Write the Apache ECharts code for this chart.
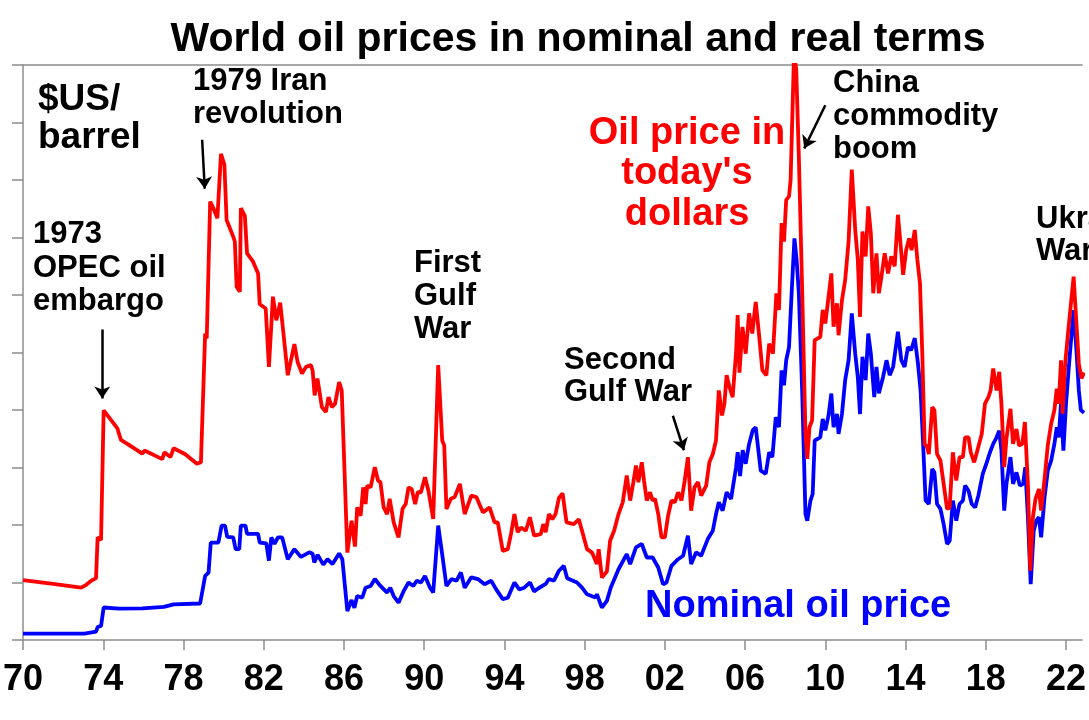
<!DOCTYPE html>
<html><head><meta charset="utf-8">
<script src="https://cdn.jsdelivr.net/npm/echarts@6/dist/echarts.min.js"></script>
<style>html,body{margin:0;padding:0;background:#fff}#c{width:1089px;height:720px}</style>
</head><body><div id="c"></div>
<script>
// ---- data ----
const tickYears = [1970,1974,1978,1982,1986,1990,1994,1998,2002,2006,2010,2014,2018,2022];

const realPrice = [
[1970.00,20.8],[1971.50,19.5],[1972.90,18.2],[1973.15,19.2],[1973.40,20.6],[1973.64,21.5],[1973.72,35.7],[1973.89,34.8],
[1974.02,79.9],[1974.47,75.8],[1974.71,73.5],[1974.88,69.6],[1975.20,68.2],[1975.95,64.8],[1976.06,65.9],[1976.94,62.9],
[1977.05,65.3],[1977.35,63.6],[1977.51,66.7],[1978.09,64.6],[1978.67,61.3],[1978.87,61.8],[1979.08,106.6],[1979.16,104.9],
[1979.33,152.5],[1979.49,150.2],[1979.69,146.7],[1979.87,169.1],[1980.04,165.3],[1980.15,146.1],[1980.48,140.3],[1980.56,138.6],
[1980.65,122.9],[1980.81,121.1],[1980.86,150.2],[1981.06,147.5],[1981.17,134.5],[1981.47,131.6],[1981.72,127.5],[1981.80,116.8],
[1982.10,115.3],[1982.26,95.0],[1982.46,119.4],[1982.63,111.2],[1982.82,117.3],[1982.95,108.9],[1983.20,92.1],[1983.53,102.9],
[1983.69,96.7],[1983.91,92.7],[1984.11,95.0],[1984.36,95.6],[1984.44,93.6],[1984.54,85.1],[1984.68,90.9],[1984.90,81.0],
[1985.10,79.3],[1985.23,84.5],[1985.40,81.0],[1985.56,82.2],[1985.76,89.7],[1985.89,86.8],[1986.17,30.4],[1986.38,41.5],
[1986.55,32.5],[1986.66,46.1],[1986.83,43.2],[1986.96,53.1],[1987.08,47.3],[1987.16,53.7],[1987.33,53.1],[1987.54,60.1],
[1987.70,55.4],[1987.82,54.9],[1987.98,46.1],[1988.15,43.8],[1988.28,49.1],[1988.48,40.9],[1988.72,35.7],[1988.92,45.6],
[1989.08,47.3],[1989.22,53.1],[1989.38,52.5],[1989.55,47.3],[1989.68,51.4],[1989.84,51.4],[1990.04,56.6],[1990.21,52.0],
[1990.45,42.1],[1990.70,95.6],[1990.90,69.4],[1991.00,67.6],[1991.11,45.6],[1991.33,49.1],[1991.52,49.7],[1991.78,54.3],
[1992.02,43.8],[1992.35,50.2],[1992.60,49.7],[1992.93,44.4],[1993.26,46.1],[1993.51,40.9],[1993.67,40.9],[1993.92,31.0],
[1994.17,31.6],[1994.33,36.9],[1994.50,43.8],[1994.66,37.5],[1994.83,39.1],[1995.07,38.0],[1995.27,42.7],[1995.48,36.3],
[1995.81,36.8],[1995.94,40.3],[1996.06,37.5],[1996.22,43.8],[1996.39,42.0],[1996.55,43.8],[1996.72,49.4],[1996.90,51.0],
[1997.10,40.9],[1997.46,40.3],[1997.71,42.0],[1997.87,38.0],[1998.12,31.6],[1998.37,30.4],[1998.61,26.4],[1998.70,31.6],
[1998.86,21.7],[1999.11,23.8],[1999.27,34.5],[1999.47,38.0],[1999.69,43.8],[1999.90,47.9],[2000.10,57.2],[2000.27,48.5],
[2000.43,54.9],[2000.56,60.7],[2000.68,54.9],[2000.85,61.8],[2000.96,55.5],[2001.10,48.5],[2001.26,51.4],[2001.39,48.5],
[2001.51,49.1],[2001.67,43.8],[2001.83,35.7],[2002.00,35.7],[2002.16,43.2],[2002.33,48.5],[2002.50,47.9],[2002.66,51.4],
[2002.83,48.5],[2002.99,55.5],[2003.15,63.6],[2003.31,45.0],[2003.48,53.1],[2003.65,54.9],[2003.81,50.2],[2004.06,53.7],
[2004.22,61.8],[2004.39,64.7],[2004.55,69.4],[2004.69,86.8],[2004.85,78.1],[2004.97,82.2],[2005.08,92.1],[2005.22,88.0],
[2005.38,84.5],[2005.55,100.0],[2005.63,113.0],[2005.72,93.0],[2005.87,108.9],[2006.03,99.6],[2006.20,113.6],[2006.36,106.6],
[2006.53,117.6],[2006.69,106.6],[2006.86,93.9],[2007.06,92.1],[2007.20,103.1],[2007.39,99.6],[2007.56,120.6],[2007.69,114.8],
[2007.82,145.0],[2007.94,138.6],[2008.05,153.1],[2008.19,154.3],[2008.27,160.1],[2008.44,204.0],[2008.55,198.5],[2008.68,168.2],
[2008.85,120.6],[2009.01,71.7],[2009.10,63.0],[2009.21,74.0],[2009.34,76.4],[2009.47,104.3],[2009.75,105.4],[2009.87,114.8],
[2010.00,110.1],[2010.13,117.6],[2010.30,127.5],[2010.41,109.0],[2010.58,117.1],[2010.66,106.0],[2010.83,118.2],[2010.99,125.2],
[2011.16,138.6],[2011.32,163.6],[2011.49,142.7],[2011.62,132.2],[2011.73,112.4],[2011.85,142.1],[2012.01,133.4],[2012.14,150.8],
[2012.27,141.5],[2012.39,120.6],[2012.55,134.5],[2012.67,120.6],[2012.80,126.4],[2012.96,134.5],[2013.13,127.5],[2013.29,133.4],
[2013.46,130.0],[2013.62,147.9],[2013.79,134.5],[2013.88,127.0],[2014.03,135.6],[2014.18,139.7],[2014.30,135.6],[2014.46,142.6],
[2014.59,132.2],[2014.72,124.0],[2014.84,98.4],[2014.95,68.2],[2015.08,67.1],[2015.16,64.7],[2015.33,81.0],[2015.44,79.9],
[2015.57,64.7],[2015.74,62.4],[2015.90,54.3],[2016.07,45.6],[2016.20,46.1],[2016.36,65.3],[2016.53,55.5],[2016.69,63.6],
[2016.86,63.6],[2016.97,70.5],[2017.14,70.5],[2017.25,65.3],[2017.42,61.8],[2017.58,65.9],[2017.80,71.7],[2017.96,82.2],
[2018.13,84.5],[2018.24,86.8],[2018.37,94.4],[2018.54,86.8],[2018.67,93.3],[2018.78,82.2],[2018.92,60.1],[2019.03,70.0],
[2019.23,80.4],[2019.36,68.2],[2019.53,73.4],[2019.66,67.6],[2019.82,68.2],[2019.95,75.8],[2020.10,54.3],[2020.22,24.1],
[2020.35,42.7],[2020.48,49.1],[2020.65,52.5],[2020.76,45.0],[2020.93,56.0],[2021.09,67.6],[2021.26,75.2],[2021.42,79.9],
[2021.54,87.4],[2021.64,82.2],[2021.75,97.3],[2021.83,78.7],[2021.96,96.2],[2022.13,108.9],[2022.38,126.4],[2022.52,110.1],
[2022.64,96.1],[2022.77,91.0],[2022.90,93.0]
];

const nominalPrice = [
[1970.00,2.2],[1973.06,2.2],[1973.64,2.9],[1973.72,4.5],[1973.89,4.9],[1974.02,11.3],[1974.79,10.9],[1975.95,11.0],
[1977.02,11.5],[1977.51,12.4],[1978.83,12.7],[1979.08,22.3],[1979.25,23.4],[1979.36,33.9],[1979.74,33.9],[1979.90,39.8],
[1980.07,39.8],[1980.18,35.9],[1980.48,35.7],[1980.60,31.6],[1980.78,31.6],[1980.86,39.8],[1981.09,39.8],[1981.17,36.9],
[1981.72,36.9],[1981.80,33.9],[1982.13,33.6],[1982.26,27.6],[1982.38,35.7],[1982.54,33.4],[1982.71,35.7],[1982.92,35.7],
[1983.20,28.1],[1983.53,31.6],[1983.86,28.9],[1984.27,30.5],[1984.44,30.0],[1984.52,27.0],[1984.69,29.6],[1984.97,26.2],
[1985.18,28.1],[1985.43,26.4],[1985.76,30.1],[1985.92,28.1],[1986.17,10.1],[1986.38,13.9],[1986.52,11.2],[1986.66,15.3],
[1986.91,14.7],[1987.08,18.2],[1987.33,18.8],[1987.54,21.2],[1987.82,18.8],[1988.15,16.5],[1988.31,18.2],[1988.48,15.3],
[1988.72,13.0],[1988.97,16.9],[1989.22,20.0],[1989.46,18.8],[1989.63,20.6],[1989.84,20.0],[1990.04,22.3],[1990.29,18.2],
[1990.45,16.5],[1990.70,39.8],[1990.92,28.7],[1991.11,18.8],[1991.36,21.2],[1991.61,20.6],[1991.83,23.5],[1992.02,18.2],
[1992.35,21.8],[1992.68,21.2],[1993.01,19.4],[1993.34,20.6],[1993.59,17.6],[1993.92,14.2],[1994.17,14.7],[1994.50,20.0],
[1994.74,17.6],[1994.99,18.2],[1995.28,20.0],[1995.48,16.9],[1995.70,18.0],[1996.06,19.5],[1996.22,21.2],[1996.47,20.6],
[1996.72,24.1],[1996.96,25.8],[1997.13,21.5],[1997.62,20.0],[1997.87,18.2],[1998.12,15.9],[1998.53,14.8],[1998.61,15.9],
[1998.86,11.3],[1999.11,13.6],[1999.30,18.2],[1999.69,24.6],[2000.10,29.9],[2000.27,26.4],[2000.56,32.2],[2000.85,33.4],
[2001.10,28.7],[2001.39,28.7],[2001.67,25.2],[2001.91,19.4],[2002.08,20.0],[2002.33,25.8],[2002.66,28.1],[2002.91,29.3],
[2003.15,36.3],[2003.31,26.4],[2003.56,30.5],[2003.81,29.3],[2004.14,35.1],[2004.39,38.0],[2004.55,43.8],[2004.69,47.9],
[2004.88,45.0],[2005.08,51.4],[2005.30,49.1],[2005.55,60.1],[2005.63,65.3],[2005.75,57.0],[2005.88,66.0],[2006.03,61.3],
[2006.20,68.2],[2006.38,72.9],[2006.53,74.0],[2006.78,58.9],[2007.03,57.8],[2007.20,65.3],[2007.36,63.6],[2007.53,77.5],
[2007.69,74.0],[2007.82,93.8],[2007.94,88.6],[2008.05,97.3],[2008.19,101.9],[2008.32,120.6],[2008.46,139.7],[2008.57,132.2],
[2008.68,120.6],[2008.85,85.8],[2009.01,43.8],[2009.10,41.5],[2009.26,48.5],[2009.37,50.8],[2009.47,69.4],[2009.75,70.5],
[2009.87,76.9],[2010.00,72.9],[2010.16,78.1],[2010.30,85.7],[2010.41,74.0],[2010.58,78.6],[2010.66,71.7],[2010.83,78.6],
[2010.99,90.4],[2011.16,97.3],[2011.32,113.6],[2011.49,99.6],[2011.62,91.5],[2011.73,78.6],[2011.85,98.5],[2012.01,90.4],
[2012.14,106.6],[2012.27,99.6],[2012.44,84.5],[2012.55,95.0],[2012.67,85.8],[2012.88,91.5],[2013.05,97.3],[2013.21,92.1],
[2013.38,95.0],[2013.62,107.2],[2013.79,97.3],[2013.95,95.0],[2014.12,101.9],[2014.28,100.8],[2014.46,105.0],[2014.62,96.1],
[2014.75,86.8],[2014.89,66.0],[2015.00,48.5],[2015.16,47.3],[2015.33,59.5],[2015.44,58.3],[2015.57,47.3],[2015.74,45.6],
[2015.90,40.3],[2016.07,33.4],[2016.20,34.5],[2016.36,48.5],[2016.53,41.5],[2016.69,47.3],[2016.86,48.5],[2016.97,53.7],
[2017.14,51.9],[2017.30,47.3],[2017.47,46.1],[2017.63,50.2],[2017.85,57.8],[2018.05,61.8],[2018.21,65.3],[2018.37,68.2],
[2018.54,70.5],[2018.67,72.8],[2018.78,65.9],[2018.92,45.0],[2019.03,54.3],[2019.23,63.6],[2019.36,54.3],[2019.53,58.3],
[2019.70,53.7],[2019.86,54.3],[2019.97,60.1],[2020.10,42.7],[2020.24,19.4],[2020.39,38.0],[2020.52,41.5],[2020.65,42.7],
[2020.76,35.7],[2020.93,49.6],[2021.09,58.9],[2021.26,62.4],[2021.42,68.2],[2021.54,74.0],[2021.64,70.5],[2021.75,82.2],
[2021.87,65.9],[2022.00,82.2],[2022.18,98.4],[2022.38,114.7],[2022.52,100.8],[2022.64,86.8],[2022.74,80.0],[2022.90,79.0]
];

// annotation arrows, [from, to] in [year, $] coordinates
const arrowCoords = [
  [[1973.95,108],[1973.95,84]],
  [[1978.93,174],[1979.06,157]],
  [[2002.40,78],[2002.95,66]],
  [[2010.00,186],[2008.95,171]]
];

// ---- chart ----
const FONT = '"Liberation Sans", Arial, sans-serif';
const AX = '#8c8c8c';
function txt(x, y, text, size, color, align, lh) {
  return { type: 'text', x: x, y: y, silent: true, z: 100,
    style: { text: text, fill: color, fontSize: size, fontWeight: 'bold', fontFamily: FONT,
             align: align || 'left', verticalAlign: 'top', lineHeight: lh || size * 1.1 } };
}
const chart = echarts.init(document.getElementById('c'), null, { renderer: 'canvas' });
chart.setOption({
  animation: false,
  backgroundColor: '#fff',
  grid: { left: 21, right: 0, top: 65, bottom: 80, containLabel: false },
  xAxis: [{
    type: 'value', min: 1970, max: 2022.8, interval: 4,
    axisLine: { show: true, lineStyle: { color: AX, width: 1.5 } },
    axisTick: { show: true, length: 10, lineStyle: { color: AX, width: 1.5 }, customValues: tickYears },
    axisLabel: { show: true, margin: 22, fontSize: 36, fontWeight: 'bold', fontFamily: FONT, color: '#000',
                 customValues: tickYears,
                 formatter: v => String(Math.round(v) % 100).padStart(2, '0') },
    splitLine: { show: false }
  }, {
    type: 'value', position: 'top', min: 1970, max: 2022.8,
    axisLine: { show: true, lineStyle: { color: AX, width: 1.5 } },
    axisTick: { show: false }, axisLabel: { show: false }, splitLine: { show: false }
  }],
  yAxis: {
    type: 'value', min: 0, max: 200, interval: 20,
    axisLine: { show: true, lineStyle: { color: AX, width: 1.5 } },
    axisTick: { show: true, inside: false, length: 11, lineStyle: { color: AX, width: 1.5 } },
    axisLabel: { show: false },
    splitLine: { show: false }
  },
  series: [{
    name: 'Nominal oil price', type: 'line', data: nominalPrice, showSymbol: false,
    lineStyle: { color: '#0000ff', width: 3.8 }, itemStyle: { color: '#0000ff' }, z: 2
  }, {
    name: "Oil price in today's dollars", type: 'line', data: realPrice, showSymbol: false,
    lineStyle: { color: '#ff0000', width: 3.8 }, itemStyle: { color: '#ff0000' }, z: 3,
    markLine: {
      silent: true, animation: false, symbol: ['none', 'arrow'], symbolSize: 12,
      lineStyle: { color: '#000', width: 2.5, type: 'solid' },
      label: { show: false }, emphasis: { disabled: true },
      data: arrowCoords.map(a => [{ coord: a[0] }, { coord: a[1] }])
    }
  }],
  graphic: [
    txt(578, 19, 'World oil prices in nominal and real terms', 41, '#000', 'center', 41),
    txt(38, 81, '$US/\nbarrel', 37, '#000', 'left', 38),
    txt(193, 65, '1979 Iran\nrevolution', 31, '#000', 'left', 33),
    txt(33, 218, '1973\nOPEC oil\nembargo', 31, '#000', 'left', 33.5),
    txt(414, 247, 'First\nGulf\nWar', 31, '#000', 'left', 33),
    txt(564, 344, 'Second\nGulf War', 31, '#000', 'left', 32),
    txt(833, 67, 'China\ncommodity\nboom', 31, '#000', 'left', 33),
    txt(1036, 203, 'Ukraine\nWar', 31, '#000', 'left', 32),
    txt(687, 113, "Oil price in\ntoday's\ndollars", 38, '#ff0000', 'center', 40.5),
    txt(645, 588, 'Nominal oil price', 38, '#0000ff', 'left', 38)
  ]
});
</script></body></html>
